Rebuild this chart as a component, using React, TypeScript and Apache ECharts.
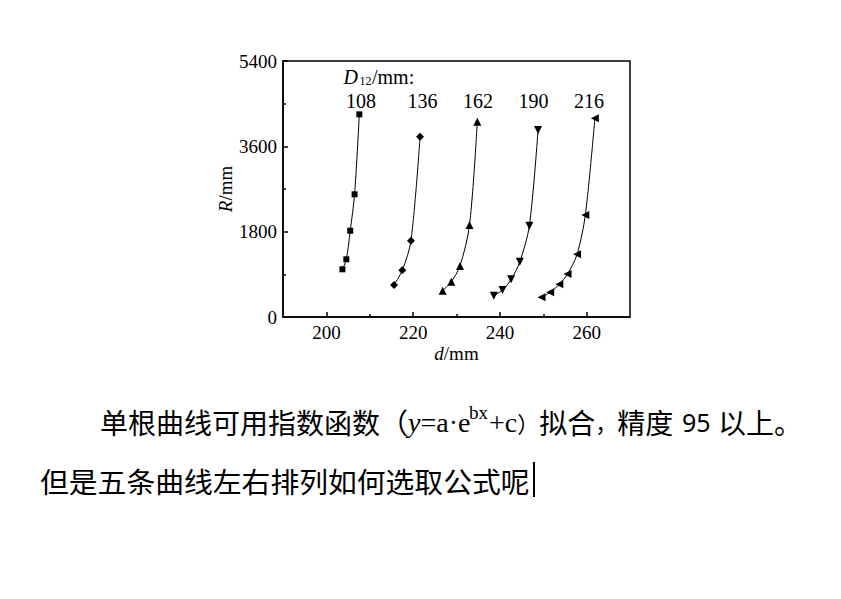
import React, { useEffect, useRef } from "react";
import * as echarts from "echarts";

// ---- data ----
const seriesNames = ["108", "136", "162", "190", "216"];
const s108: number[][] = [[203.7, 1006], [204.6, 1217], [205.5, 1820], [206.5, 2588], [207.6, 4275]];
const s136: number[][] = [[215.6, 675], [217.5, 985], [219.5, 1609], [221.6, 3803]];
const s162: number[][] = [[226.8, 555], [228.8, 745], [230.8, 1076], [233.0, 1940], [234.8, 4119]];
const s190: number[][] = [[238.6, 449], [240.6, 569], [242.6, 795], [244.6, 1166], [246.8, 1925], [248.8, 3944]];
const s216: number[][] = [[249.6, 415], [251.6, 521], [253.7, 690], [255.6, 907], [257.8, 1322], [259.7, 2151], [261.9, 4190]];
const seriesData = [s108, s136, s162, s190, s216];
const xRange = { min: 190, max: 270 };
const xMajorTicks = [200, 220, 240, 260];
const xMinorTicks = [210, 230, 250];
const yTicks = { min: 0, max: 5400, interval: 1800 };

// styles
const symbols = ["rect", "diamond", "triangle", "triangle", "triangle"];
const rotations = [0, 0, 0, 180, 90];
const sizes = [6, 8, 8, 8, 8];
const labelX = [361, 422.5, 478, 533.5, 589];

const SERIF = "'Liberation Serif', 'Times New Roman', serif";
const CJK = "'Noto Sans CJK SC', sans-serif";

function txt(text: string, x: number, y: number, size: number, family: string, extra: any = {}) {
  return {
    type: "text",
    x,
    y,
    style: {
      text,
      fontSize: size,
      fontFamily: family,
      fill: "#000",
      textAlign: "left",
      textVerticalAlign: "middle",
      ...extra,
    },
  };
}

export default function App() {
  const ref = useRef<HTMLDivElement>(null);
  useEffect(() => {
    if (!ref.current) return;
    const chart = echarts.init(ref.current, undefined, { renderer: "svg" });
    const axisLineStyle = { color: "#000", width: 1.5 };
    const Y1 = 422;
    const Y2 = 480;
    const lineRich = {
      cn: { fontFamily: CJK, fontSize: 28, color: "#000" },
      rp: { fontFamily: CJK, fontSize: 22, color: "#000" },
      cm: { fontFamily: CJK, fontSize: 22, color: "#000" },
      it: { fontFamily: SERIF, fontSize: 28, fontStyle: "italic", color: "#000" },
      tm: { fontFamily: SERIF, fontSize: 28, color: "#000" },
    };
    const graphic: any[] = [
      txt("D", 343.5, 76.5, 20, SERIF, { fontStyle: "italic" }),
      txt("12", 359.5, 81, 12, SERIF),
      txt("/mm:", 372, 76.5, 20, SERIF),
      ...seriesNames.map((n, i) => txt(n, labelX[i], 101, 20, SERIF, { textAlign: "center" })),
      txt("{cn|单根曲线可用指数函数（}{it|y}{tm|=a·e}", 100, Y1, 28, CJK, { rich: lineRich }),
      txt("bx", 469, Y1 - 10, 19, SERIF),
      txt("{tm|+c}{rp|）}{cn|拟合}{cm|，}{cn|精度}", 489, Y1, 28, CJK, { rich: lineRich }),
      txt("95", 682, Y1, 25, "'Noto Sans', sans-serif"),
      txt("以上。", 718, Y1, 28, CJK),
      txt("但是五条曲线左右排列如何选取公式呢", 40, Y2, 28.8, CJK),
      { type: "rect", shape: { x: 533, y: 462, width: 2, height: 35 }, style: { fill: "#000" } },
    ];
    const italicRich = { i: { fontStyle: "italic", fontFamily: SERIF, fontSize: 19, color: "#000" } };
    chart.setOption({
      animation: false,
      backgroundColor: "#fff",
      grid: {
        left: 283,
        right: 211,
        top: 61,
        bottom: 282,
        show: true,
        borderColor: "#000",
        borderWidth: 1.5,
        backgroundColor: "transparent",
      },
      xAxis: [
        {
          type: "value",
          min: xRange.min,
          max: xRange.max,
          interval: 10,
          axisLine: { show: true, lineStyle: axisLineStyle },
          axisTick: { show: true, inside: true, length: 5, lineStyle: axisLineStyle, customValues: xMajorTicks },
          splitLine: { show: false },
          axisLabel: {
            color: "#000",
            fontFamily: SERIF,
            fontSize: 19,
            margin: 6,
            customValues: xMajorTicks,
            formatter: (v: number) => String(v),
          },
          name: "{i|d}/mm",
          nameLocation: "middle",
          nameGap: 27,
          nameTextStyle: { color: "#000", fontFamily: SERIF, fontSize: 19, rich: italicRich },
        },
        {
          type: "value",
          min: xRange.min,
          max: xRange.max,
          interval: 10,
          position: "bottom",
          axisLine: { show: false },
          axisTick: { show: true, inside: true, length: 3, lineStyle: axisLineStyle, customValues: xMinorTicks },
          axisLabel: { show: false },
          splitLine: { show: false },
        },
      ],
      yAxis: {
        type: "value",
        min: yTicks.min,
        max: yTicks.max,
        interval: yTicks.interval,
        axisLine: { show: true, lineStyle: axisLineStyle },
        axisTick: { show: true, inside: true, length: 5, lineStyle: axisLineStyle },
        minorTick: { show: true, splitNumber: 2, length: 3, lineStyle: { color: "#000", width: 1.5 } },
        splitLine: { show: false },
        axisLabel: {
          color: "#000",
          fontFamily: SERIF,
          fontSize: 19,
          margin: 6,
          formatter: (v: number) => String(v),
        },
        name: "{i|R}/mm",
        nameLocation: "middle",
        nameRotate: 90,
        nameGap: 46,
        nameTextStyle: { color: "#000", fontFamily: SERIF, fontSize: 19, rich: italicRich },
      },
      series: seriesData.map((d, i) => ({
        name: seriesNames[i],
        type: "line",
        xAxisIndex: 0,
        data: d,
        smooth: 0.3,
        symbol: symbols[i],
        symbolSize: sizes[i],
        symbolRotate: rotations[i],
        showAllSymbol: true,
        lineStyle: { color: "#000", width: 1 },
        itemStyle: { color: "#000" },
      })),
      graphic,
    });
    return () => chart.dispose();
  }, []);
  return (
    <div
      ref={ref}
      style={{ position: "fixed", left: 0, top: 0, width: 841, height: 599, background: "#fff" }}
    />
  );
}
